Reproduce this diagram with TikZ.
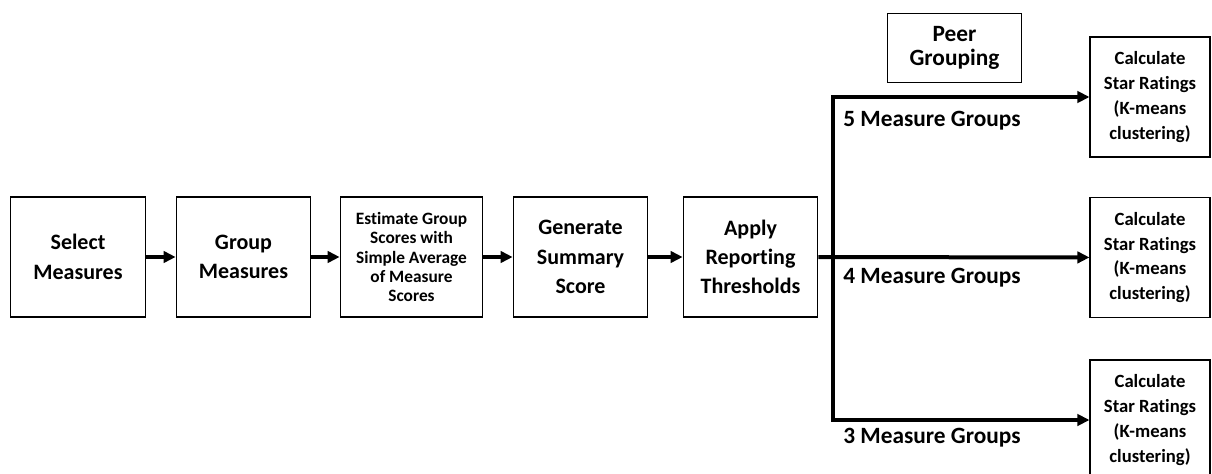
\documentclass[tikz,border=0pt]{standalone}
\usepackage{fontspec}
\setmainfont[Ligatures={NoCommon}]{Carlito}
\usepackage{tikz}
\usetikzlibrary{arrows.meta,positioning,calc}

\begin{document}
\begin{tikzpicture}[
    >={Triangle[length=9pt,width=8.5pt]},
    x=0.75pt, y=-0.75pt,
    stepbox/.style={draw,line width=0.8pt,minimum width=101pt,minimum height=90pt,
                  inner sep=1pt,align=center,font=\fontsize{16.5}{22}\selectfont\bfseries},
    smallbox/.style={stepbox,minimum width=107pt,font=\fontsize{13}{14.6}\selectfont\bfseries},
    starbox/.style={stepbox,minimum width=90pt,font=\fontsize{14}{18.6}\selectfont\bfseries},
    peerbox/.style={stepbox,minimum height=52pt,font=\fontsize{17.5}{18.5}\selectfont\bfseries},
    flow/.style={->,line width=3pt},
    grp/.style={anchor=west,inner sep=0pt,font=\fontsize{17.5}{20}\selectfont\bfseries},
  ]
  \useasboundingbox (0,0) rectangle (1212,474);

  % --- main pipeline ---
  \node[stepbox]  (sel)  at (78,257)    {Select\\Measures};
  \node[stepbox]  (grpm) at (243.5,257) {Group\\Measures};
  \node[smallbox] (est)  at (411.5,257) {Estimate Group\\Scores with\\Simple Average\\of Measure\\Scores};
  \node[stepbox]  (gen)  at (580.5,257) {Generate\\Summary\\Score};
  \node[stepbox]  (app)  at (750.5,257) {Apply\\Reporting\\Thresholds};

  % --- peer grouping and star ratings ---
  \node[peerbox] (peer) at (954.5,48) {Peer\\Grouping};
  \node[starbox] (star5) at (1150,97)    {Calculate\\Star Ratings\\(K-means\\clustering)};
  \node[starbox] (star4) at (1150,257.5) {Calculate\\Star Ratings\\(K-means\\clustering)};
  \node[starbox] (star3) at (1150,420)   {Calculate\\Star Ratings\\(K-means\\clustering)};

  \coordinate (split) at (833,257.5);

  % --- pipeline edges ---
  \draw[flow] (sel) -- (grpm);
  \draw[flow] (grpm) -- (est);
  \draw[flow] (est) -- (gen);
  \draw[flow] (gen) -- (app);

  % --- branches ---
  \draw[flow] (app) -- (star4);
  \draw[flow] (split) |- (star5);
  \draw[flow] (split) |- (star3);

  \node[grp] (g5) at (843,121) {5 Measure Groups};
  \node[grp] (g4) at (843,278) {4 Measure Groups};
  \node[grp] (g3) at (843,438) {3 Measure Groups};

\end{tikzpicture}
\end{document}
